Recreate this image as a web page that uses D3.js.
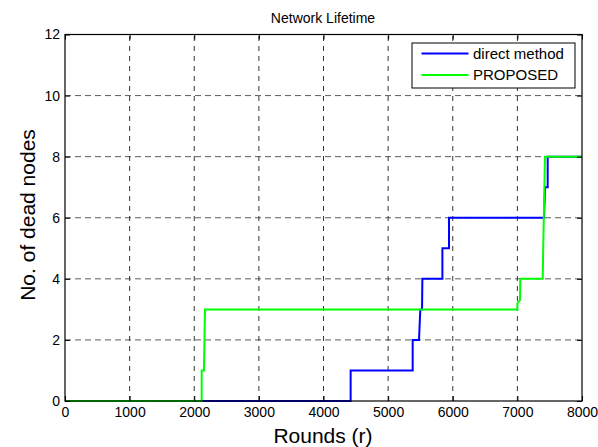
<!DOCTYPE html>
<html><head><meta charset="utf-8">
<script src="https://cdn.jsdelivr.net/npm/d3@7"></script>
<style>body{margin:0;background:#fff}svg{display:block}text{font-family:"Liberation Sans",Arial,sans-serif;fill:#000}</style>
</head><body>
<script>
const xTicks = [0,1000,2000,3000,4000,5000,6000,7000,8000];
const yTicks = [0,2,4,6,8,10,12];
const seriesNames = ["direct method","PROPOSED"];
const seriesColors = ["#0000ff","#00ff00"];
const directRounds = [0,4420,4420,5380,5380,5478,5498,5525,5530,5840,5840,5942,5942,7412,7428,7469,7469,8000];
const directDead   = [0,0,1,1,2,2,3,3,4,4,5,5,6,6,7,7,8,8];
const proposedRounds = [0,2115,2115,2150,2166,7000,7000,7040,7045,7392,7400,7427,8000];
const proposedDead   = [0,0,1,1,3,3,3.2,3.3,4,4,5,8,8];

const W=598,H=447;
const m={l:65,t:34.5,r:582,b:401};
const svg=d3.select("body").append("svg").attr("width",W).attr("height",H);
const x=d3.scaleLinear().domain([0,8000]).range([m.l,m.r]);
const y=d3.scaleLinear().domain([0,12]).range([m.b,m.t]);

// grid
const g=svg.append("g");
g.selectAll(".vg").data(xTicks.slice(1,-1)).enter().append("line")
 .attr("x1",d=>x(d)).attr("x2",d=>x(d)).attr("y1",m.b).attr("y2",m.t)
 .attr("stroke","#000").attr("stroke-width",0.8).attr("stroke-dasharray","5,5");
g.selectAll(".hg").data(yTicks.slice(1,-1)).enter().append("line")
 .attr("y1",d=>y(d)).attr("y2",d=>y(d)).attr("x1",m.l).attr("x2",m.r)
 .attr("stroke","#333").attr("stroke-width",0.8).attr("stroke-dasharray","6,4");

// lines
const lineGen=d3.line().x(d=>x(d[0])).y(d=>y(d[1]));
const blue=directRounds.map((r,i)=>[r,directDead[i]]);
const green=proposedRounds.map((r,i)=>[r,proposedDead[i]]);
[blue,green].forEach((data,i)=>{
  svg.append("path").datum(data).attr("d",lineGen).attr("fill","none")
   .attr("stroke",seriesColors[i]).attr("stroke-width",2).attr("stroke-linejoin","miter");
});

// axes box
svg.append("rect").attr("x",m.l).attr("y",m.t).attr("width",m.r-m.l).attr("height",m.b-m.t)
 .attr("fill","none").attr("stroke","#000").attr("stroke-width",1.2);

// inward ticks via d3 axes
const ax=svg.append("g").attr("transform",`translate(0,${m.b})`)
 .call(d3.axisBottom(x).tickValues(xTicks).tickSizeInner(-5).tickSizeOuter(0).tickFormat(d3.format("d")));
ax.select(".domain").remove();
ax.selectAll("text").style("font-size","14px").attr("y",6).attr("dy","0.71em");
const axT=svg.append("g").attr("transform",`translate(0,${m.t})`)
 .call(d3.axisTop(x).tickValues(xTicks).tickSizeInner(-5).tickSizeOuter(0).tickFormat(""));
axT.select(".domain").remove();
const ay=svg.append("g").attr("transform",`translate(${m.l},0)`)
 .call(d3.axisLeft(y).tickValues(yTicks).tickSizeInner(-5).tickSizeOuter(0).tickFormat(d3.format("d")));
ay.select(".domain").remove();
ay.selectAll("text").style("font-size","14px").attr("x",-5);
const ayR=svg.append("g").attr("transform",`translate(${m.r},0)`)
 .call(d3.axisRight(y).tickValues(yTicks).tickSizeInner(-5).tickSizeOuter(0).tickFormat(""));
ayR.select(".domain").remove();
svg.selectAll(".tick line").attr("stroke","#000");
svg.selectAll(".tick text").attr("fill","#000").style("font-family","Liberation Sans, Arial, sans-serif");

// titles
svg.append("text").attr("x",323).attr("y",23).attr("text-anchor","middle").style("font-size","14px").text("Network Lifetime");
svg.append("text").attr("x",323).attr("y",443).attr("text-anchor","middle").style("font-size","21px").text("Rounds (r)");
svg.append("text").attr("transform","translate(35,215) rotate(-90)").attr("text-anchor","middle").style("font-size","21px").text("No. of dead nodes");

// legend
const lg=svg.append("g");
lg.append("rect").attr("x",412).attr("y",43).attr("width",163).attr("height",45)
 .attr("fill","#fff").attr("stroke","#000").attr("stroke-width",1);
seriesNames.forEach((n,i)=>{
  const yy=53.5+i*21.5;
  lg.append("line").attr("x1",421.5).attr("x2",468.5).attr("y1",yy).attr("y2",yy)
   .attr("stroke",seriesColors[i]).attr("stroke-width",2);
  lg.append("text").attr("x",473).attr("y",yy).attr("dy","0.35em").style("font-size","15px").text(n);
});
</script>
</body></html>
